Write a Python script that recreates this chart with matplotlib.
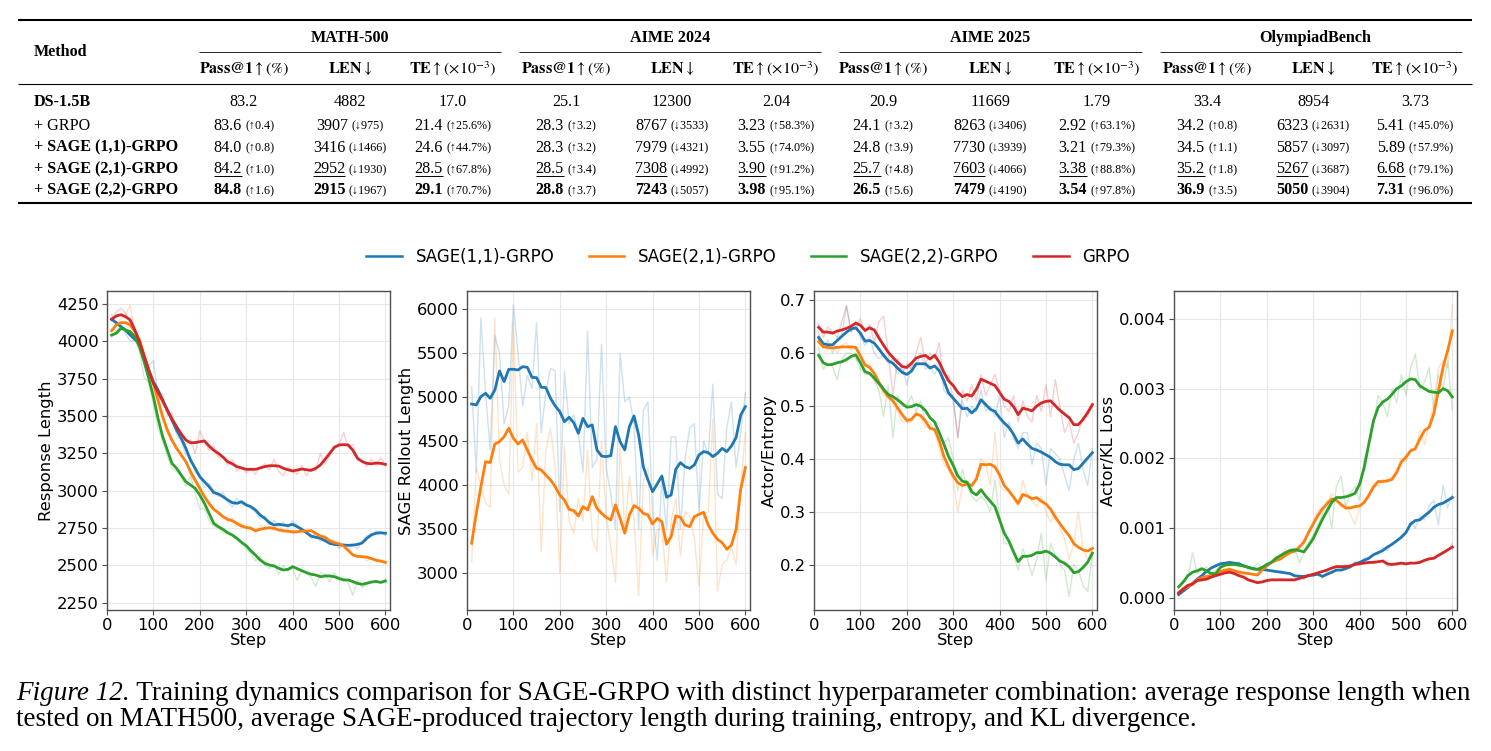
import matplotlib
matplotlib.use('Agg')
import matplotlib.pyplot as plt
from matplotlib.lines import Line2D
from matplotlib.ticker import FormatStrFormatter

plt.rcParams['mathtext.fontset'] = 'stix'

# ------------------------------------------------------------------ data
methods = ['DS-1.5B', '+ GRPO', '+ SAGE (1,1)-GRPO', '+ SAGE (2,1)-GRPO', '+ SAGE (2,2)-GRPO']
method_bold = [True, False, True, True, True]
benchmarks = ['MATH-500', 'AIME 2024', 'AIME 2025', 'OlympiadBench']
metric_headers = [r'$\mathbf{Pass@1}\uparrow(\%)$', r'$\mathbf{LEN}\downarrow$',
                  r'$\mathbf{TE}\uparrow(\times10^{-3})$']
main_vals = [
    ['83.2', '4882', '17.0', '25.1', '12300', '2.04', '20.9', '11669', '1.79', '33.4', '8954', '3.73'],
    ['83.6', '3907', '21.4', '28.3', '8767', '3.23', '24.1', '8263', '2.92', '34.2', '6323', '5.41'],
    ['84.0', '3416', '24.6', '28.3', '7979', '3.55', '24.8', '7730', '3.21', '34.5', '5857', '5.89'],
    ['84.2', '2952', '28.5', '28.5', '7308', '3.90', '25.7', '7603', '3.38', '35.2', '5267', '6.68'],
    ['84.8', '2915', '29.1', '28.8', '7243', '3.98', '26.5', '7479', '3.54', '36.9', '5050', '7.31'],
]
delta_vals = [
    [''] * 12,
    ['↑0.4', '↓975', '↑25.6%', '↑3.2', '↓3533', '↑58.3%', '↑3.2', '↓3406', '↑63.1%', '↑0.8', '↓2631', '↑45.0%'],
    ['↑0.8', '↓1466', '↑44.7%', '↑3.2', '↓4321', '↑74.0%', '↑3.9', '↓3939', '↑79.3%', '↑1.1', '↓3097', '↑57.9%'],
    ['↑1.0', '↓1930', '↑67.8%', '↑3.4', '↓4992', '↑91.2%', '↑4.8', '↓4066', '↑88.8%', '↑1.8', '↓3687', '↑79.1%'],
    ['↑1.6', '↓1967', '↑70.7%', '↑3.7', '↓5057', '↑95.1%', '↑5.6', '↓4190', '↑97.8%', '↑3.5', '↓3904', '↑96.0%'],
]
row_style = ['plain', 'plain', 'plain', 'underline', 'bold']

series_names = ['SAGE(1,1)-GRPO', 'SAGE(2,1)-GRPO', 'SAGE(2,2)-GRPO', 'GRPO']
series_colors = ['#1f77b4', '#ff7f0e', '#2ca02c', '#d62728']
steps = list(range(10, 601, 10))

# Response length (MATH500)
resp_smooth = {
    'SAGE(1,1)-GRPO': [4147, 4125, 4098, 4076, 4042, 4013, 3987, 3897, 3808, 3730, 3674, 3607, 3540, 3473, 3406, 3350, 3283, 3205, 3150, 3094,
                       3060, 3027, 2987, 2978, 2960, 2938, 2920, 2915, 2926, 2904, 2893, 2871, 2837, 2815, 2786, 2770, 2775, 2770, 2766, 2775,
                       2759, 2741, 2719, 2696, 2688, 2681, 2665, 2647, 2640, 2638, 2636, 2634, 2636, 2640, 2650, 2681, 2705, 2715, 2718, 2715],
    'SAGE(2,1)-GRPO': [4071, 4109, 4125, 4125, 4109, 4065, 4009, 3908, 3808, 3719, 3607, 3496, 3406, 3339, 3283, 3239, 3194, 3127, 3071, 3016,
                       2960, 2915, 2875, 2853, 2826, 2808, 2799, 2781, 2763, 2754, 2748, 2732, 2741, 2748, 2752, 2748, 2737, 2732, 2728, 2725,
                       2725, 2730, 2730, 2732, 2714, 2696, 2688, 2665, 2652, 2645, 2630, 2600, 2570, 2560, 2558, 2555, 2545, 2535, 2528, 2520],
    'SAGE(2,2)-GRPO': [4042, 4054, 4087, 4076, 4065, 4031, 3964, 3864, 3752, 3629, 3484, 3362, 3272, 3183, 3150, 3105, 3060, 3038, 3016, 2971,
                       2915, 2848, 2781, 2759, 2741, 2719, 2703, 2681, 2654, 2632, 2598, 2569, 2536, 2514, 2502, 2496, 2480, 2469, 2473, 2491,
                       2478, 2464, 2451, 2440, 2435, 2424, 2429, 2429, 2424, 2413, 2402, 2402, 2391, 2379, 2373, 2380, 2388, 2392, 2386, 2395],
    'GRPO':           [4147, 4170, 4178, 4165, 4143, 4076, 3998, 3900, 3805, 3719, 3660, 3600, 3540, 3480, 3429, 3380, 3339, 3321, 3322, 3328,
                       3333, 3299, 3270, 3250, 3225, 3194, 3180, 3161, 3152, 3143, 3143, 3143, 3152, 3161, 3167, 3167, 3165, 3150, 3140, 3132,
                       3138, 3145, 3140, 3136, 3150, 3172, 3210, 3250, 3290, 3306, 3308, 3306, 3270, 3217, 3195, 3183, 3180, 3185, 3183, 3176],
}
resp_raw = {
    'SAGE(1,1)-GRPO': [4180, 4110, 4120, 4050, 4000, 4010, 3960, 3880, 3840, 3870, 3640, 3600, 3520, 3480, 3380, 3330, 3240, 3230, 3120, 3100,
                       3020, 3050, 3000, 2960, 2990, 2930, 2890, 2950, 2910, 2920, 2880, 2860, 2810, 2830, 2770, 2800, 2760, 2790, 2750, 2800,
                       2770, 2720, 2730, 2680, 2720, 2660, 2680, 2640, 2650, 2610, 2640, 2600, 2640, 2610, 2660, 2700, 2690, 2730, 2720, 2700],
    'SAGE(2,1)-GRPO': [4080, 4120, 4150, 4180, 4240, 4060, 4010, 3920, 3800, 3700, 3560, 3480, 3380, 3330, 3290, 3230, 3200, 3100, 3060, 3000,
                       2960, 2890, 2880, 2840, 2840, 2790, 2820, 2760, 2780, 2740, 2760, 2710, 2770, 2740, 2750, 2730, 2780, 2720, 2740, 2710,
                       2720, 2740, 2710, 2740, 2700, 2680, 2700, 2650, 2670, 2620, 2640, 2590, 2570, 2550, 2560, 2530, 2550, 2520, 2540, 2510],
    'SAGE(2,2)-GRPO': [4030, 4070, 4100, 4060, 4040, 4010, 3930, 3760, 3720, 3580, 3420, 3330, 3230, 3150, 3130, 3090, 3030, 3100, 2980, 2880,
                       2880, 2800, 2760, 2750, 2720, 2710, 2700, 2670, 2650, 2610, 2580, 2530, 2560, 2500, 2480, 2510, 2440, 2500, 2460, 2480,
                       2400, 2470, 2450, 2420, 2360, 2450, 2440, 2390, 2450, 2400, 2420, 2380, 2300, 2400, 2350, 2380, 2390, 2400, 2380, 2410],
    'GRPO':           [4150, 4200, 4220, 4190, 4120, 4070, 3980, 3890, 3800, 3740, 3640, 3650, 3500, 3520, 3400, 3360, 3310, 3340, 3250, 3400,
                       3330, 3270, 3300, 3220, 3230, 3170, 3210, 3130, 3160, 3120, 3150, 3110, 3160, 3180, 3140, 3210, 3130, 3100, 3160, 3130,
                       3110, 3170, 3100, 3150, 3130, 3250, 3180, 3230, 3300, 3300, 3390, 3290, 3310, 3200, 3200, 3160, 3210, 3170, 3220, 3170],
}

# SAGE rollout length
rollout_smooth = {
    'SAGE(1,1)-GRPO': [4924, 4913, 5008, 5045, 4989, 5083, 5299, 5178, 5318, 5318, 5311, 5348, 5341, 5227, 5223, 5114, 5110, 4989, 4902, 4837,
                       4723, 4773, 4712, 4591, 4761, 4667, 4686, 4402, 4333, 4326, 4337, 4667, 4496, 4402, 4667, 4788, 4572, 4212, 4061, 3928,
                       4015, 4106, 3864, 3890, 4182, 4258, 4212, 4193, 4231, 4345, 4383, 4371, 4326, 4364, 4420, 4383, 4447, 4542, 4799, 4894],
    'SAGE(2,1)-GRPO': [3341, 3682, 3985, 4269, 4258, 4470, 4496, 4553, 4648, 4534, 4470, 4515, 4402, 4288, 4193, 4174, 4117, 4061, 3985, 3890,
                       3833, 3727, 3712, 3652, 3758, 3720, 3871, 3739, 3682, 3636, 3606, 3777, 3625, 3455, 3663, 3769, 3739, 3682, 3663, 3561,
                       3625, 3587, 3330, 3417, 3652, 3636, 3549, 3530, 3644, 3670, 3693, 3549, 3455, 3386, 3348, 3273, 3322, 3500, 3955, 4201],
}
rollout_raw = {
    'SAGE(1,1)-GRPO': [5120, 4150, 5900, 5050, 4400, 5700, 5500, 4700, 4900, 6050, 5500, 4900, 5250, 5100, 5850, 4600, 5050, 5330, 5300, 3700,
                       5300, 4700, 4800, 4600, 4150, 5750, 4200, 4300, 5600, 4200, 3900, 3500, 5500, 4950, 5000, 4700, 3500, 4850, 4950, 3700,
                       3150, 4050, 3500, 4550, 4550, 3500, 4300, 4650, 4700, 3700, 4500, 4350, 5150, 3900, 3850, 4650, 4950, 4200, 4600, 5050],
    'SAGE(2,1)-GRPO': [3130, 4200, 4000, 3800, 3750, 5900, 4300, 4000, 3900, 5850, 4150, 4200, 4600, 4050, 4700, 3250, 4400, 4650, 4200, 3000,
                       4450, 3600, 3450, 3850, 3600, 4400, 3400, 3250, 4500, 3650, 3300, 2900, 4450, 3500, 4100, 3600, 2750, 4050, 4200, 3200,
                       3500, 3500, 2900, 3600, 3850, 3200, 3700, 3650, 3400, 2850, 3650, 3700, 4750, 2800, 3100, 3150, 3300, 3100, 4000, 4600],
}

# Actor entropy
entropy_smooth = {
    'SAGE(1,1)-GRPO': [.630, .618, .616, .616, .624, .632, .640, .646, .648, .638, .623, .624, .619, .608, .596, .586, .581, .572, .564, .560,
                       .566, .580, .580, .580, .572, .576, .567, .548, .525, .515, .505, .495, .496, .487, .495, .512, .503, .494, .490, .478,
                       .468, .460, .447, .430, .438, .428, .420, .417, .413, .408, .403, .395, .390, .389, .389, .380, .382, .392, .402, .412],
    'SAGE(2,1)-GRPO': [.622, .612, .611, .610, .611, .612, .612, .612, .611, .595, .578, .573, .562, .545, .530, .518, .510, .497, .484, .473,
                       .475, .485, .482, .472, .458, .456, .435, .405, .385, .368, .355, .350, .353, .350, .362, .390, .389, .390, .385, .370,
                       .350, .340, .328, .316, .333, .330, .325, .327, .320, .315, .305, .290, .278, .266, .255, .240, .233, .228, .226, .231],
    'SAGE(2,2)-GRPO': [.596, .582, .578, .579, .582, .584, .588, .594, .597, .582, .565, .562, .553, .543, .532, .522, .518, .512, .505, .498,
                       .499, .503, .500, .492, .478, .470, .450, .428, .405, .388, .368, .358, .356, .338, .332, .342, .330, .320, .310, .285,
                       .260, .245, .225, .206, .216, .216, .218, .223, .223, .226, .222, .215, .207, .203, .196, .185, .187, .195, .205, .222],
    'GRPO':           [.649, .640, .640, .638, .642, .644, .647, .651, .657, .653, .643, .648, .644, .629, .615, .602, .592, .583, .575, .573,
                       .581, .591, .594, .596, .589, .596, .583, .564, .548, .539, .526, .518, .522, .519, .532, .551, .547, .543, .539, .526,
                       .513, .509, .499, .484, .496, .494, .491, .500, .506, .509, .510, .501, .492, .485, .478, .465, .465, .475, .488, .503],
}
entropy_raw = {
    'SAGE(1,1)-GRPO': [.640, .610, .625, .600, .630, .635, .690, .640, .660, .630, .615, .630, .600, .590, .600, .580, .590, .560, .575, .540,
                       .580, .575, .600, .570, .575, .560, .580, .530, .520, .520, .440, .510, .480, .500, .490, .530, .490, .500, .480, .520,
                       .440, .470, .440, .420, .450, .450, .390, .430, .420, .350, .420, .410, .400, .370, .340, .400, .430, .380, .350, .420],
    'SAGE(2,1)-GRPO': [.630, .620, .605, .615, .600, .615, .620, .605, .610, .590, .575, .580, .545, .540, .520, .520, .520, .490, .470, .470,
                       .470, .490, .480, .460, .460, .455, .420, .390, .380, .360, .300, .350, .360, .340, .370, .400, .390, .350, .450, .350,
                       .340, .340, .330, .310, .360, .330, .320, .310, .330, .300, .280, .300, .270, .250, .210, .240, .300, .230, .210, .230],
    'SAGE(2,2)-GRPO': [.610, .570, .580, .575, .550, .590, .600, .600, .590, .570, .560, .560, .550, .530, .480, .540, .440, .520, .500, .500,
                       .520, .490, .510, .470, .470, .450, .450, .430, .440, .400, .340, .380, .350, .330, .320, .330, .320, .300, .360, .290,
                       .240, .240, .220, .190, .230, .210, .180, .210, .260, .170, .240, .220, .200, .190, .140, .200, .190, .160, .150, .220],
    'GRPO':           [.655, .630, .650, .640, .630, .660, .690, .640, .650, .665, .640, .655, .620, .660, .670, .600, .520, .590, .560, .580,
                       .570, .600, .630, .580, .600, .590, .620, .540, .560, .510, .440, .530, .510, .540, .510, .560, .520, .540, .560, .530,
                       .500, .490, .520, .470, .510, .480, .470, .520, .490, .540, .480, .550, .500, .450, .470, .430, .450, .480, .480, .500],
}

# Actor KL loss
kl_smooth = {
    'SAGE(1,1)-GRPO': [.00005, .00010, .00015, .00021, .00027, .00032, .00038, .00043, .00046, .00049, .00050, .00051, .00050, .00049, .00046,
                       .00044, .00042, .00041, .00041, .00040, .00039, .00038, .00037, .00036, .00035, .00032, .00031, .00031, .00032, .00033,
                       .00034, .00031, .00034, .00037, .00040, .00040, .00042, .00045, .00049, .00051, .00054, .00057, .00062, .00065, .00068,
                       .00073, .00077, .00082, .00087, .00094, .00106, .00111, .00112, .00118, .00123, .00130, .00134, .00136, .00140, .00144],
    'SAGE(2,1)-GRPO': [.00008, .00013, .00016, .00020, .00026, .00029, .00031, .00032, .00034, .00038, .00040, .00041, .00039, .00037, .00036,
                       .00035, .00034, .00033, .00040, .00046, .00051, .00054, .00056, .00061, .00065, .00067, .00073, .00080, .00094, .00106,
                       .00118, .00128, .00135, .00142, .00140, .00134, .00129, .00129, .00131, .00132, .00137, .00147, .00159, .00167, .00167,
                       .00168, .00170, .00180, .00195, .00202, .00211, .00214, .00228, .00240, .00245, .00264, .00297, .00331, .00355, .00383],
    'SAGE(2,2)-GRPO': [.00016, .00023, .00032, .00037, .00039, .00042, .00039, .00035, .00035, .00044, .00047, .00048, .00048, .00047, .00046,
                       .00044, .00042, .00041, .00044, .00048, .00051, .00057, .00061, .00065, .00068, .00069, .00068, .00066, .00075, .00085,
                       .00099, .00113, .00125, .00137, .00144, .00144, .00145, .00147, .00150, .00163, .00187, .00221, .00254, .00273, .00281,
                       .00285, .00292, .00300, .00304, .00310, .00314, .00313, .00304, .00300, .00296, .00295, .00294, .00300, .00297, .00288],
    'GRPO':           [.00007, .00013, .00018, .00020, .00025, .00026, .00027, .00030, .00032, .00034, .00036, .00037, .00035, .00032, .00030,
                       .00026, .00024, .00022, .00023, .00025, .00026, .00026, .00026, .00026, .00026, .00026, .00028, .00030, .00032, .00034,
                       .00036, .00038, .00040, .00043, .00045, .00045, .00045, .00046, .00048, .00049, .00050, .00051, .00051, .00052, .00053,
                       .00049, .00048, .00049, .00050, .00049, .00050, .00050, .00051, .00054, .00056, .00057, .00061, .00065, .00069, .00073],
}
kl_raw = {
    'SAGE(1,1)-GRPO': [.00004, .00010, .00017, .00020, .00029, .00031, .00040, .00042, .00048, .00050, .00049, .00053, .00048, .00052, .00044,
                       .00045, .00040, .00043, .00039, .00041, .00038, .00037, .00039, .00035, .00036, .00030, .00033, .00027, .00034, .00030,
                       .00036, .00028, .00038, .00035, .00044, .00041, .00046, .00042, .00052, .00048, .00058, .00055, .00063, .00062, .00072,
                       .00068, .00079, .00080, .00090, .00092, .00110, .00100, .00118, .00112, .00132, .00140, .00105, .00162, .00130, .00148],
    'SAGE(2,1)-GRPO': [.00006, .00012, .00018, .00020, .00024, .00030, .00029, .00034, .00032, .00040, .00038, .00044, .00037, .00040, .00034,
                       .00037, .00032, .00036, .00043, .00045, .00053, .00052, .00060, .00070, .00063, .00070, .00071, .00085, .00090, .00110,
                       .00125, .00130, .00135, .00150, .00140, .00130, .00135, .00120, .00105, .00130, .00140, .00150, .00165, .00160, .00170,
                       .00165, .00175, .00180, .00200, .00195, .00215, .00210, .00240, .00220, .00250, .00280, .00330, .00340, .00330, .00420],
    'SAGE(2,2)-GRPO': [.00015, .00025, .00030, .00065, .00035, .00040, .00045, .00030, .00040, .00045, .00050, .00048, .00050, .00045, .00048,
                       .00040, .00043, .00050, .00042, .00050, .00052, .00060, .00058, .00065, .00070, .00072, .00050, .00065, .00080, .00090,
                       .00105, .00120, .00140, .00100, .00160, .00175, .00130, .00150, .00160, .00140, .00200, .00220, .00250, .00290, .00280,
                       .00260, .00300, .00280, .00320, .00290, .00330, .00350, .00300, .00310, .00330, .00270, .00320, .00300, .00340, .00270],
    'GRPO':           [.00006, .00014, .00020, .00019, .00026, .00025, .00029, .00028, .00034, .00032, .00038, .00036, .00037, .00031, .00030,
                       .00025, .00025, .00021, .00024, .00024, .00027, .00025, .00028, .00025, .00027, .00025, .00029, .00027, .00034, .00033,
                       .00037, .00037, .00042, .00041, .00046, .00044, .00048, .00043, .00050, .00047, .00052, .00049, .00053, .00051, .00054,
                       .00045, .00050, .00046, .00050, .00047, .00052, .00049, .00053, .00054, .00058, .00055, .00062, .00063, .00068, .00078],
}

caption_head = 'Figure 12.'
caption_line1 = ' Training dynamics comparison for SAGE-GRPO with distinct hyperparameter combination: average response length when'
caption_line2 = 'tested on MATH500, average SAGE-produced trajectory length during training, entropy, and KL divergence.'

# ------------------------------------------------------------------ figure
W, H = 1491, 751
fig = plt.figure(figsize=(W / 100, H / 100), dpi=100)
R = fig.canvas.get_renderer()
SERIF = ['Liberation Serif', 'DejaVu Serif']


def fx(x):
    return x / W


def fy(y):
    return 1 - y / H


def put(x, y, s, **kw):
    kw.setdefault('family', SERIF)
    kw.setdefault('color', 'black')
    return fig.text(fx(x), fy(y), s, **kw)


def wid(t):
    return t.get_window_extent(R).width


def hline(x0, x1, y, lw):
    fig.add_artist(Line2D([fx(x0), fx(x1)], [fy(y), fy(y)], transform=fig.transFigure,
                          color='black', lw=lw, solid_capstyle='butt'))


# ---- table
FS = 11.6
FS_SMALL = 8.7
col_x = [244, 350, 453, 566, 672, 776, 883, 990, 1097, 1207, 1313, 1415]
group_x = [350, 670, 990, 1315]
group_span = [(199, 501), (519, 821), (839, 1142), (1160, 1462)]
row_base = [106.5, 129.5, 151.5, 173, 194]

hline(18, 1472, 20, 1.5)
hline(18, 1472, 84, 0.8)
hline(18, 1472, 203, 1.5)
for (a, b) in group_span:
    hline(a, b, 52, 0.6)
for gx, name in zip(group_x, benchmarks):
    put(gx, 38, name, fontsize=FS, fontweight='bold', ha='center', va='center')
for i, cx in enumerate(col_x):
    put(cx, 69, metric_headers[i % 3], fontsize=FS, ha='center', va='center')
put(34, 52, 'Method', fontsize=FS, fontweight='bold', ha='left', va='center')

for r, (name, bold) in enumerate(zip(methods, method_bold)):
    yb = row_base[r]
    put(34, yb, name, fontsize=FS, fontweight='bold' if bold else 'normal', ha='left', va='baseline')
    style = row_style[r]
    for c, cx in enumerate(col_x):
        m = main_vals[r][c]
        d = delta_vals[r][c]
        t1 = put(0, yb, m, fontsize=FS, fontweight='bold' if style == 'bold' else 'normal',
                 ha='left', va='baseline')
        w1 = wid(t1)
        if d:
            t2 = put(0, yb, '(' + d + ')', fontsize=FS_SMALL, ha='left', va='baseline')
            w2 = wid(t2)
            gap = 3.5
        else:
            t2, w2, gap = None, 0, 0
        x0 = cx - (w1 + gap + w2) / 2
        t1.set_x(fx(x0))
        if t2 is not None:
            t2.set_x(fx(x0 + w1 + gap))
        if style == 'underline':
            hline(x0, x0 + w1, yb + 3, 0.7)

# ---- plots
lefts = [107, 467, 814, 1174]
top, bottom, width = 291, 610, 283
panels = [
    (resp_smooth, resp_raw, 'Response Length', (2201, 4337), list(range(2250, 4251, 250)), None),
    (rollout_smooth, rollout_raw, 'SAGE Rollout Length', (2583, 6208), list(range(3000, 6001, 500)), None),
    (entropy_smooth, entropy_raw, 'Actor/Entropy', (0.1145, 0.7177), [0.2, 0.3, 0.4, 0.5, 0.6, 0.7], '%.1f'),
    (kl_smooth, kl_raw, 'Actor/KL Loss', (-0.000172, 0.0044), [0.0, 0.001, 0.002, 0.003, 0.004], '%.3f'),
]
TFS = 11.8
SPINE = '#505050'
for left, (sm, raw, ylabel, ylim, yticks, fmt) in zip(lefts, panels):
    ax = fig.add_axes([fx(left), fy(bottom), width / W, (bottom - top) / H])
    for name, col in zip(series_names, series_colors):
        if name in raw:
            ax.plot(steps, raw[name], color=col, lw=1.0, alpha=0.22)
    for name, col in zip(series_names, series_colors):
        if name in sm:
            ax.plot(steps, sm[name], color=col, lw=2.0)
    ax.set_xlim(0, 610)
    ax.set_ylim(*ylim)
    ax.set_xticks(list(range(0, 601, 100)))
    ax.set_yticks(yticks)
    if fmt:
        ax.yaxis.set_major_formatter(FormatStrFormatter(fmt))
    ax.grid(True, color='#e8e8e8', lw=0.8)
    ax.set_axisbelow(True)
    for s in ax.spines.values():
        s.set_color(SPINE)
        s.set_linewidth(1.0)
    ax.tick_params(labelsize=TFS, colors='black', color=SPINE, length=3.5, width=0.8, pad=2.5)
    ax.set_xlabel('Step', fontsize=TFS, labelpad=0)
    ax.set_ylabel(ylabel, fontsize=TFS, labelpad=2)

handles = [Line2D([], [], color=c, lw=1.8) for c in series_colors]
fig.legend(handles, series_names, loc='center', bbox_to_anchor=(fx(748), fy(257)), ncol=4,
           frameon=False, fontsize=12, handlelength=2.15, handletextpad=0.8, columnspacing=2.05,
           borderaxespad=0, borderpad=0)

# ---- caption
c1 = put(16, 700, caption_head, fontsize=10, style='italic', ha='left', va='baseline')
c2 = put(16, 700, caption_line1, fontsize=10, ha='left', va='baseline')
total = wid(c1) + wid(c2)
cfs = 10 * 1458 / total
c1.set_fontsize(cfs)
c2.set_fontsize(cfs)
c2.set_x(fx(16 + wid(c1)))
put(16, 726, caption_line2, fontsize=cfs, ha='left', va='baseline')

fig.savefig('out.png', dpi=100)
